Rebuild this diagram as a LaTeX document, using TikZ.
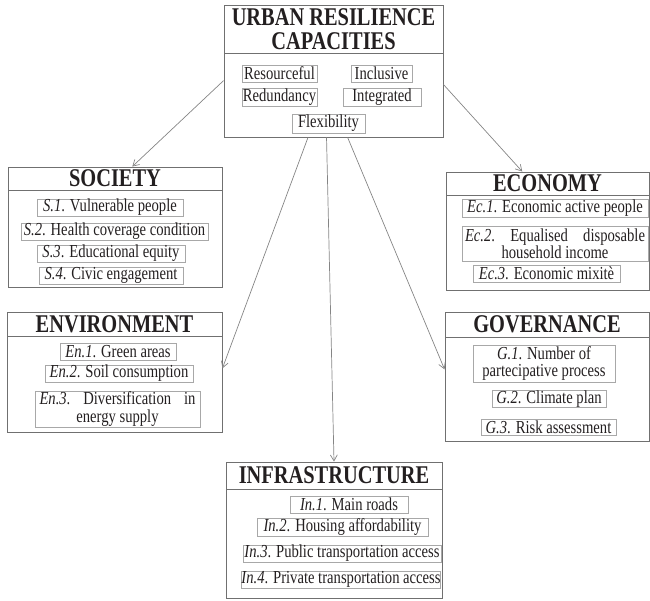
\documentclass[tikz,border=0pt]{standalone}
\usepackage{fontspec}
\setmainfont{Liberation Serif}[FakeStretch=0.8]
\usetikzlibrary{arrows.meta}
\definecolor{framegray}{HTML}{707070}
\definecolor{boxgray}{HTML}{A8A8A8}
\definecolor{arrowgray}{HTML}{858585}
\definecolor{ink}{HTML}{231F20}
\tikzset{
  panel/.style={draw=framegray, line width=0.9pt, inner sep=0pt},
  ttl/.style={font=\fontsize{25.5}{24}\selectfont\bfseries, text=ink, align=center, inner sep=0pt},
  item/.style={draw=boxgray, line width=0.8pt, inner sep=0pt, align=center, text=ink,
    font=\fontsize{18.3}{17.5}\selectfont},
  link/.style={draw=arrowgray, line width=0.7pt, -{Straight Barb[length=6pt,width=7pt]}}
}
\begin{document}
\begin{tikzpicture}[x=1pt, y=-1pt]
  \useasboundingbox (0,0) rectangle (650,601);
  % panels: id / left / top / right / bottom / title rule / title
  \def \Panels{
    urc/224/5/443/137/53/{URBAN RESILIENCE\\CAPACITIES},
    soc/8/167/222/287/190/SOCIETY,
    eco/446/172/649/290/195/ECONOMY,
    env/7/312/222/432/336/ENVIRONMENT,
    gov/445/312/649/441/337/GOVERNANCE,
    inf/226/462/442/598/489/INFRASTRUCTURE}
  % indicators: id / left / top / right / bottom / text
  \def \Items{
    res/242/65/317/82/Resourceful,
    inc/351/65/412/82/Inclusive,
    red/242/88/317/106/Redundancy,
    int/343/88/421/106/Integrated,
    flx/292/114/365/133/Flexibility,
    s1/37/199/183/216/{\textit{S.1}. Vulnerable people},
    s2/21/223/208/240/{\textit{S.2}. Health coverage condition},
    s3/37/245/185/262/{\textit{S.3}. Educational equity},
    s4/39/267/183/284/{\textit{S.4}. Civic engagement},
    ec1/462/199/648/217/{\textit{Ec.1}. Economic active people},
    ec2/462/226/648/261/{\makebox[180pt]{\textit{Ec.2}.\hfill Equalised\hfill disposable}\\household income},
    ec3/473/265/620/282/{\textit{Ec.3}. Economic mixitè},
    en1/60/343/176/360/{\textit{En.1}. Green areas},
    en2/45/365/193/382/{\textit{En.2}. Soil consumption},
    en3/35/391/200/427/{\makebox[156pt]{\textit{En.3}.\hfill Diversification\hfill in}\\energy supply},
    g1/473/345/615/382/{\textit{G.1}. Number of\\partecipative process},
    g2/492/391/606/407/{\textit{G.2}. Climate plan},
    g3/481/419/616/435/{\textit{G.3}. Risk assessment},
    in1/290/496/408/513/{\textit{In.1}. Main roads},
    in2/257/518/428/536/{\textit{In.2}. Housing affordability},
    in3/243/545/441/562/{\textit{In.3}. Public transportation access},
    in4/242/571/440/588/{\textit{In.4}. Private transportation access}}
  \foreach \id / \xa / \ya / \xb / \yb / \yd / \lb in \Panels{
    \node[panel, minimum width={(\xb-\xa)*1pt}, minimum height={(\yb-\ya)*1pt}]
      (\id) at ({(\xa+\xb)/2}, {(\ya+\yb)/2}) {};
    \draw[framegray, line width=0.9pt] (\xa,\yd) -- (\xb,\yd);
    \node[ttl] (\id-t) at ({(\xa+\xb)/2}, {(\ya+\yd)/2}) {\lb};
  }
  \foreach \id / \xa / \ya / \xb / \yb / \lb in \Items{
    \node[item, minimum width={(\xb-\xa)*1pt}, minimum height={(\yb-\ya)*1pt}]
      (\id) at ({(\xa+\xb)/2}, {(\ya+\yb)/2}) {\lb};
  }
  \foreach \a / \b in {urc.185/soc.74, urc.-7/eco.113, urc.249/env.2,
                       urc.-78/gov.176, urc.264/inf.north}{
    \draw[link] (\a) -- (\b);
  }
\end{tikzpicture}
\end{document}
